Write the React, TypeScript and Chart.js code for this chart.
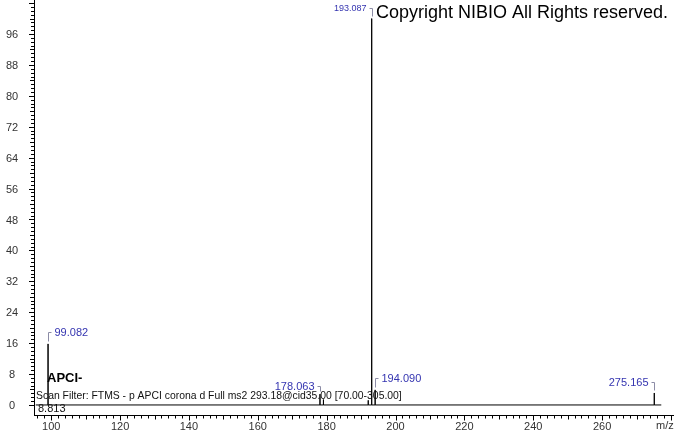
import React, { useEffect, useRef } from 'react';
import { Chart, registerables } from 'chart.js';

Chart.register(...registerables);

// ---- data ----
const peakMz = [99.082, 178.063, 179.07, 192.08, 193.087, 194.09, 275.165];
const peakIntensity = [15.8, 2.8, 1.4, 1.2, 100, 3.9, 3.1];
const labeledMz = [99.082, 178.063, 193.087, 194.09, 275.165];
const labeledText = ['99.082', '178.063', '193.087', '194.090', '275.165'];
const labeledIntensity = [15.8, 2.8, 100, 3.9, 3.1];
const baselineRange = [95.5, 277.2];
const xRange = [95, 280.6];
const yRange = [-2.6, 104.8];
const xTickValues = [100, 120, 140, 160, 180, 200, 220, 240, 260];
const yTickValues = [0, 8, 16, 24, 32, 40, 48, 56, 64, 72, 80, 88, 96];
const copyrightText = 'Copyright NIBIO All Rights reserved.';
const ionText = 'APCI-';
const filterText = 'Scan Filter: FTMS - p APCI corona d Full ms2 293.18@cid35.00 [70.00-305.00]';
const baseIntensityText = '8.813';
const axisUnitText = 'm/z';

// ---- label styles ----
const labelSide = ['right', 'left', 'left', 'right', 'left'];
const labelRise = [12, 8, 11, 12, 11];
const labelFont = [11, 11, 9, 11, 11];

const FONT = 'Arial, "Liberation Sans", sans-serif';

function buildSpectrum() {
  const pts: { x: number; y: number }[] = [{ x: baselineRange[0], y: 0 }];
  const order = peakMz.map((m, i) => i).sort((a, b) => peakMz[a] - peakMz[b]);
  for (const i of order) {
    pts.push({ x: peakMz[i], y: 0 });
    pts.push({ x: peakMz[i], y: peakIntensity[i] });
    pts.push({ x: peakMz[i], y: 0 });
  }
  pts.push({ x: baselineRange[1], y: 0 });
  return pts;
}

const overlayPlugin = {
  id: 'msOverlay',
  afterDraw(chart: any) {
    const ctx = chart.ctx as CanvasRenderingContext2D;
    const xs = chart.scales.x;
    const ys = chart.scales.y;
    const axisX = Math.round(ys.right);
    const axisY = Math.round(ys.bottom) + 0.5;
    ctx.save();
    ctx.lineWidth = 1;
    // y tick marks
    ctx.fillStyle = '#000';
    for (let v = 0; v <= 104; v += 1) {
      const py = Math.round(ys.getPixelForValue(v));
      const len = v % 8 === 0 ? 5 : v % 4 === 0 ? 4 : 3;
      ctx.fillRect(axisX - len, py, len, 1);
    }
    // x tick marks
    ctx.strokeStyle = '#000';
    ctx.beginPath();
    for (let v = 96; v <= 280; v += 2) {
      const px = Math.round(xs.getPixelForValue(v)) + 0.5;
      const len = v % 20 === 0 ? 5 : v % 10 === 0 ? 4 : 3;
      ctx.moveTo(px, axisY);
      ctx.lineTo(px, axisY + len);
    }
    ctx.stroke();

    // y tick labels (centered in the axis gutter)
    ctx.fillStyle = '#333';
    ctx.font = `11px ${FONT}`;
    ctx.textAlign = 'center';
    ctx.textBaseline = 'middle';
    for (const v of yTickValues) {
      ctx.fillText(String(v), 12, ys.getPixelForValue(v) + 1);
    }

    // peak labels
    for (let i = 0; i < labeledMz.length; i++) {
      const px = Math.round(xs.getPixelForValue(labeledMz[i])) + 0.5;
      const top = ys.getPixelForValue(labeledIntensity[i]);
      const rise = labelRise[i];
      const yb = Math.round(top - rise) + 0.5;
      const dir = labelSide[i] === 'right' ? 1 : -1;
      ctx.strokeStyle = '#8c8ca6';
      ctx.beginPath();
      ctx.moveTo(px, Math.round(top - 3) + 0.5);
      ctx.lineTo(px, yb);
      ctx.lineTo(px + dir * 3, yb);
      ctx.stroke();
      ctx.fillStyle = '#3434b0';
      ctx.font = `${labelFont[i]}px ${FONT}`;
      ctx.textBaseline = 'middle';
      ctx.textAlign = dir === 1 ? 'left' : 'right';
      ctx.fillText(labeledText[i], px + dir * 6, yb);
    }

    // texts
    ctx.fillStyle = '#000';
    ctx.textBaseline = 'middle';
    ctx.textAlign = 'left';
    ctx.font = `18px ${FONT}`;
    ctx.fillText(copyrightText, 376, 13);
    ctx.font = `bold 13px ${FONT}`;
    ctx.fillText(ionText, 47, 378);
    ctx.font = `10.4px ${FONT}`;
    ctx.fillStyle = '#111';
    ctx.fillText(filterText, 36, 396);
    ctx.font = `11px ${FONT}`;
    ctx.fillText(baseIntensityText, 38, 409);
    ctx.fillStyle = '#333';
    ctx.fillText(axisUnitText, 656, 426);
    ctx.restore();
  },
};

export default function App() {
  const ref = useRef<HTMLCanvasElement>(null);
  useEffect(() => {
    if (!ref.current) return;
    const chart = new Chart(ref.current, {
      type: 'line',
      data: {
        datasets: [
          {
            data: buildSpectrum(),
            borderColor: '#000',
            borderWidth: 1,
            pointRadius: 0,
            tension: 0,
            fill: false,
          },
        ],
      },
      options: {
        responsive: false,
        animation: false,
        layout: { padding: { left: 0, right: 1, top: 0, bottom: 0 } },
        plugins: { legend: { display: false }, tooltip: { enabled: false } },
        scales: {
          x: {
            type: 'linear',
            min: xRange[0],
            max: xRange[1],
            afterFit: (s: any) => {
              s.height = 19;
              s.paddingLeft = 0;
              s.paddingRight = 0;
            },
            afterBuildTicks: (s: any) => {
              s.ticks = xTickValues.map((v) => ({ value: v }));
            },
            ticks: {
              autoSkip: false,
              maxRotation: 0,
              color: '#333',
              font: { family: FONT, size: 11 },
              padding: 5,
            },
            grid: { display: false, drawTicks: false },
            border: { display: true, color: '#000', width: 1 },
          },
          y: {
            type: 'linear',
            min: yRange[0],
            max: yRange[1],
            afterFit: (s: any) => {
              s.width = 34;
              s.paddingTop = 0;
              s.paddingBottom = 0;
            },
            afterBuildTicks: (s: any) => {
              s.ticks = yTickValues.map((v) => ({ value: v }));
            },
            ticks: { display: false },
            grid: { display: false, drawTicks: false },
            border: { display: true, color: '#000', width: 1 },
          },
        },
      },
      plugins: [overlayPlugin],
    } as any);
    return () => chart.destroy();
  }, []);
  return (
    <div style={{ position: 'fixed', left: 0, top: 0, width: 674, height: 434, background: '#fff' }}>
      <canvas ref={ref} width={674} height={434} />
    </div>
  );
}
